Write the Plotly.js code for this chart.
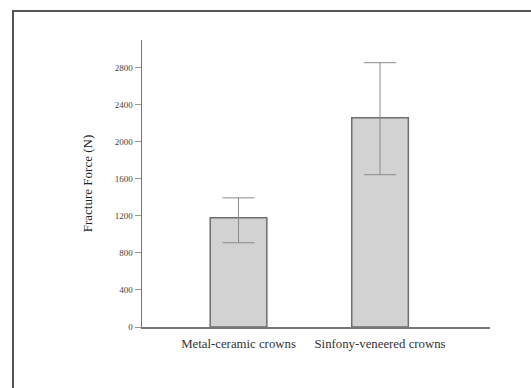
<!DOCTYPE html>
<html>
<head>
<meta charset="utf-8">
<script src="https://cdn.plot.ly/plotly-3.0.1.min.js"></script>
<style>
html,body{margin:0;padding:0;background:#fff;}
#wrap{position:relative;width:531px;height:388px;}
#chart{position:absolute;left:0;top:0;width:531px;height:388px;}
#frame{position:absolute;left:12px;top:10px;width:519px;height:378px;border-left:2px solid #555;border-top:2px solid #555;pointer-events:none;}
</style>
</head>
<body>
<div id="wrap"><div id="chart"></div><div id="frame"></div></div>
<script>
const categories = ["Metal-ceramic crowns", "Sinfony-veneered crowns"];
const meanForce = [1180, 2260];
const errPlus = [215, 595];
const errMinus = [270, 615];
const yTicks = [0, 400, 800, 1200, 1600, 2000, 2400, 2800];

const trace = {
  type: 'bar',
  x: [0, 1],
  y: meanForce,
  width: 0.4,
  marker: {color: '#d2d2d2', line: {color: '#6e6e6e', width: 1.5}},
  error_y: {type: 'data', symmetric: false, array: errPlus, arrayminus: errMinus,
            color: '#8a8a8a', thickness: 1, width: 16},
  hoverinfo: 'none'
};

const layout = {
  width: 531, height: 388,
  margin: {l: 142, r: 41, t: 40, b: 61},
  paper_bgcolor: '#fff', plot_bgcolor: '#fff',
  showlegend: false,
  font: {family: 'Liberation Serif, serif', color: '#333'},
  xaxis: {
    range: [-0.682, 1.777],
    tickmode: 'array', tickvals: [0, 1], ticktext: categories,
    ticks: '', showgrid: false, zeroline: false,
    showline: true, linecolor: '#777', linewidth: 1.5,
    tickfont: {size: 12.8, family: 'Liberation Serif, serif', color: '#333'},
    ticklabelstandoff: 4
  },
  yaxis: {
    range: [0, 3100],
    tickmode: 'array', tickvals: yTicks, ticktext: yTicks.map(String),
    ticks: 'outside', ticklen: 6, tickcolor: '#999', tickwidth: 1,
    showgrid: false, zeroline: false,
    showline: true, linecolor: '#777', linewidth: 1.5,
    tickfont: {size: 9, family: 'Liberation Serif, serif', color: '#444'},
    title: {text: 'Fracture Force (N)', font: {size: 13, family: 'Liberation Serif, serif', color: '#222'}, standoff: 19}
  }
};

Plotly.newPlot('chart', [trace], layout, {displayModeBar: false, staticPlot: true});
</script>
</body>
</html>
